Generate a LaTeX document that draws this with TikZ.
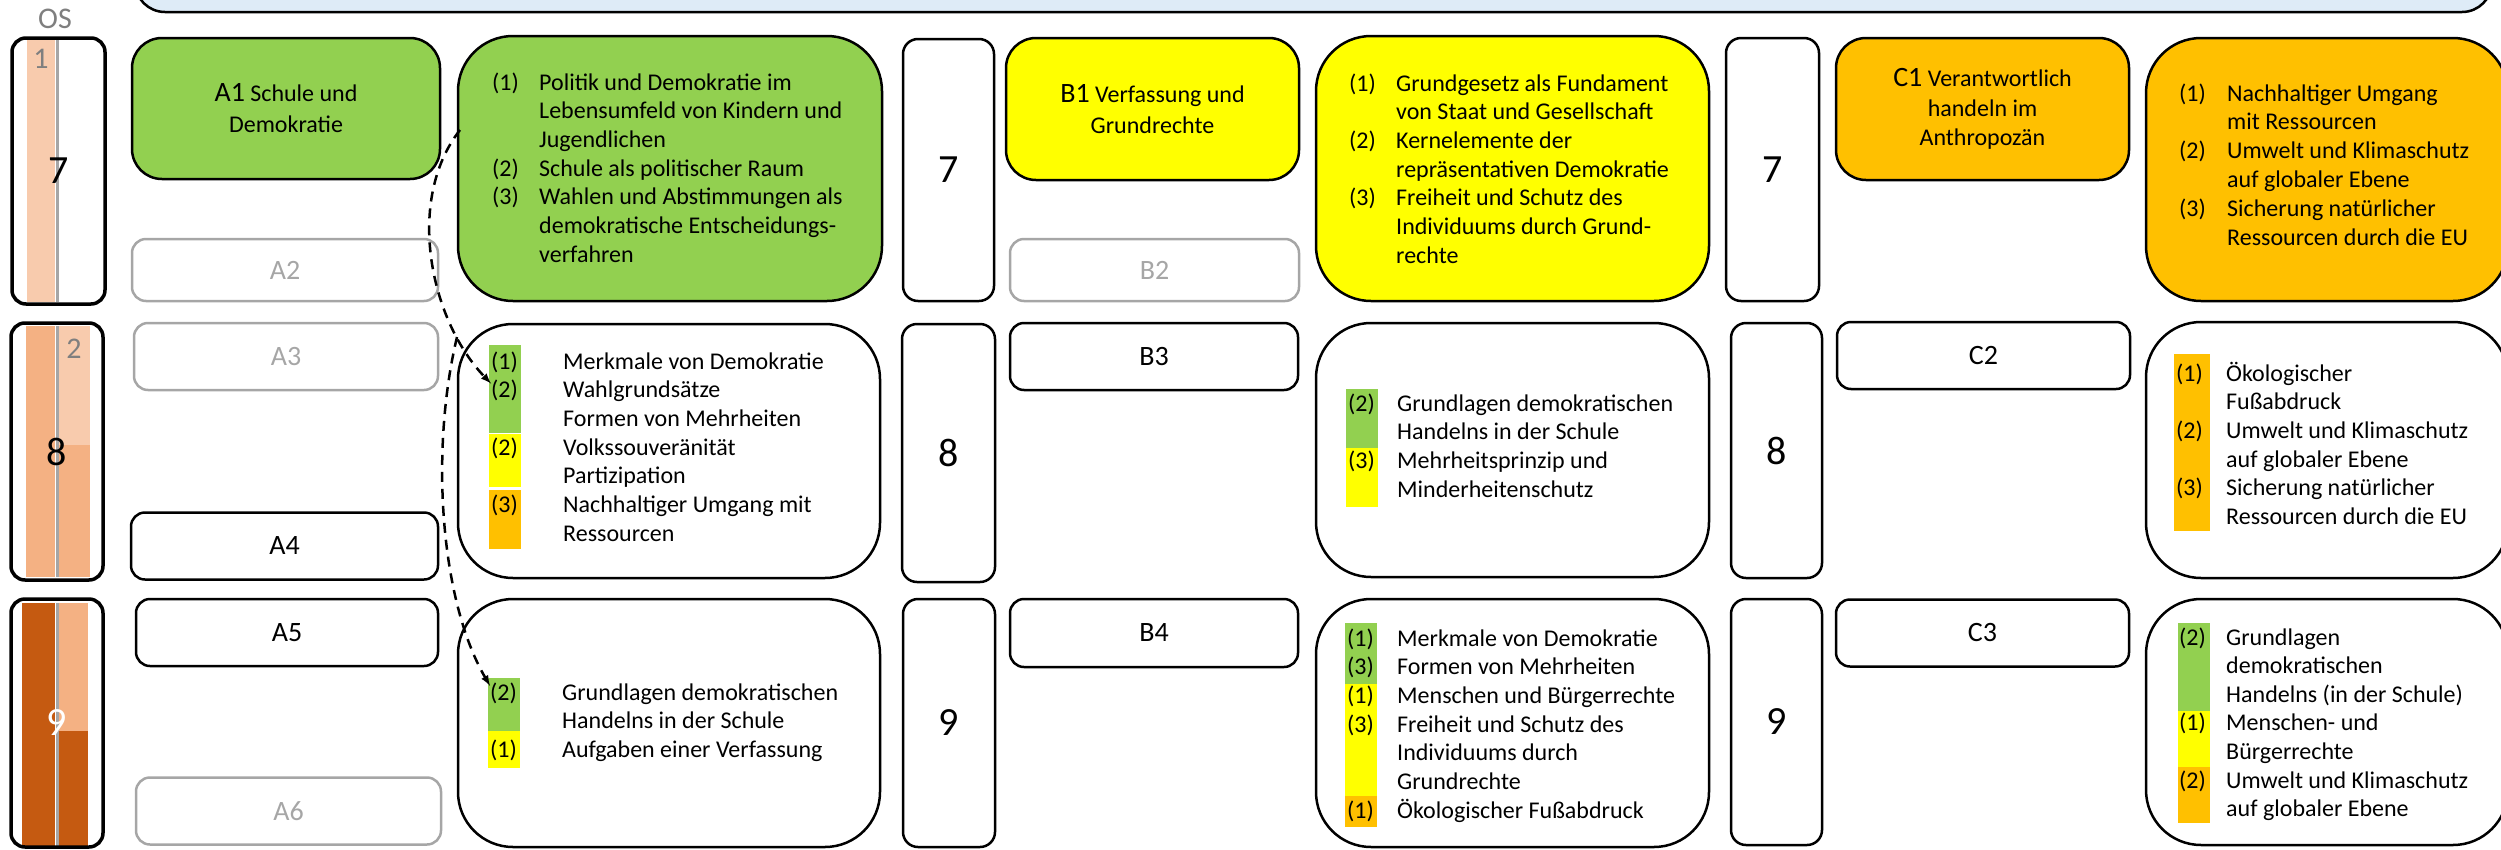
\documentclass[tikz,border=0pt]{standalone}
\usepackage{fontspec}
\setmainfont{Carlito}
\newcommand\schrift[2]{\fontsize{#1}{#2}\selectfont}

\definecolor{gruen}{HTML}{92D050}
\definecolor{gelb}{HTML}{FFFF00}
\definecolor{ocker}{HTML}{FFC000}
\definecolor{hellblau}{HTML}{DEEBF7}
\definecolor{grau}{HTML}{A6A6A6}
\definecolor{textgrau}{HTML}{7F7F7F}
\definecolor{lachs}{HTML}{F8CBAD}
\definecolor{apricot}{HTML}{F4B183}
\definecolor{rost}{HTML}{C55A11}

\tikzset{
  stufe/.style={draw, line width=3.5pt, rounded corners=14pt, font=\schrift{40}{48}},
  trenner/.style={draw, line width=2.5pt, rounded corners=15pt, font=\schrift{40}{48}},
  kopf/.style={draw, line width=2.5pt, rounded corners=14pt, align=center, font=\schrift{28}{31}},
  leer/.style={kopf, draw=grau, text=grau},
  liste/.style={draw, line width=2.5pt, rounded corners=55pt},
  nr/.style={anchor=west, inner sep=0pt, text height=14pt, text depth=0pt, font=\schrift{24}{28.7}},
  zeile/.style={nr},
  pfeil/.style={->, line width=2.5pt, dash pattern=on 10pt off 7pt},
}

\begin{document}
\begin{tikzpicture}[x=1pt, y=-1pt, >=latex]
\useasboundingbox (0,0) rectangle (2501,849);
\clip (0,0) rectangle (2501,849);

% Kopfzeile
\draw[fill=hellblau, line width=2.5pt, rounded corners=30pt] (135,-80) rectangle (2492,12);

% Klassenstufen
\node[text=textgrau, font=\schrift{30}{36}] (os) at (55,19) {OS};
\fill[lachs] (27,40) rectangle (55,302);
\fill[apricot] (26,326) rectangle (55,577);
\fill[lachs] (59,326) rectangle (90,445);
\fill[apricot] (59,445) rectangle (90,577);
\fill[rost] (22,603) rectangle (55,846);
\fill[apricot] (59,603) rectangle (88,731);
\fill[rost] (59,731) rectangle (88,846);
\foreach \y/\h in {40/302, 326/577, 603/846}
  \draw[grau, line width=3pt] (57.5,\y) -- (57.5,\h);
\node[stufe, minimum width=93, minimum height=266] (k7) at (58.5,171) {7};
\node[stufe, minimum width=92, minimum height=257] (k8) at (57,451.5) {8};
\node[stufe, minimum width=92, minimum height=248, text=white] (k9) at (57,723) {9};
\node[text=textgrau, font=\schrift{30}{36}] (h1) at (41,59) {1};
\node[text=textgrau, font=\schrift{30}{36}] (h2) at (74,349) {2};

% Spalte A
\node[kopf, fill=gruen, rounded corners=30pt, font=\schrift{24}{31}, minimum width=308, minimum height=141] (a1) at (286,108.5) {{\schrift{28}{31}A1} Schule und\\Demokratie};
\node[leer, minimum width=306, minimum height=62] (a2) at (285,270) {A2};
\node[leer, minimum width=304, minimum height=67] (a3) at (286,356.5) {A3};
\node[kopf, minimum width=307, minimum height=67] (a4) at (284.5,546) {A4};
\node[kopf, minimum width=302, minimum height=67] (a5) at (287,632.5) {A5};
\node[leer, minimum width=305, minimum height=67] (a6) at (288.5,811) {A6};

\node[liste, fill=gruen, minimum width=424, minimum height=265] (a7l) at (670,168.5) {};
\node[liste, minimum width=422, minimum height=254] (a8l) at (669,451) {};
\node[liste, minimum width=422, minimum height=248] (a9l) at (669,723) {};

\foreach \zl [count=\i] in {Politik und Demokratie im, Lebensumfeld von Kindern und, Jugendlichen, Schule als politischer Raum, Wahlen und Abstimmungen als, demokratische Entscheidungs-, verfahren}
  \node[zeile] (a7z\i) at (539,{83+28.7*(\i-1)}) {\zl};
\foreach \n/\i in {1/1, 2/4, 3/5}
  \node[nr] (a7n\i) at (492,{83+28.7*(\i-1)}) {(\n)};

\fill[gruen] (489,345) rectangle (521,433);
\fill[gelb] (489,434) rectangle (521,487);
\fill[ocker] (489,490) rectangle (521,549);
\foreach \zl [count=\i] in {Merkmale von Demokratie, Wahlgrundsätze, Formen von Mehrheiten, Volkssouveränität, Partizipation, Nachhaltiger Umgang mit, Ressourcen}
  \node[zeile] (a8z\i) at (563,{362+28.7*(\i-1)}) {\zl};
\foreach \n/\i in {1/1, 2/2, 2/4, 3/6}
  \node[nr] (a8n\i) at (491,{362+28.7*(\i-1)}) {(\n)};

\fill[gruen] (488,678) rectangle (520,731);
\fill[gelb] (488,731) rectangle (520,768);
\foreach \zl [count=\i] in {Grundlagen demokratischen, Handelns in der Schule, Aufgaben einer Verfassung}
  \node[zeile] (a9z\i) at (562,{693+28.7*(\i-1)}) {\zl};
\foreach \n/\i in {2/1, 1/3}
  \node[nr] (a9n\i) at (490,{693+28.7*(\i-1)}) {(\n)};

% Bezuege
\coordinate (start) at (460,130);
\coordinate (abzweig) at (457,337);
\draw[pfeil] (start) .. controls (405,200) and (430,320) .. (a8n2.north west);
\draw[pfeil] (abzweig) .. controls (430,450) and (440,600) .. (a9n1.north west);

% Trenner
\node[trenner, minimum width=91, minimum height=262] (t7a) at (948.5,170) {7};
\node[trenner, minimum width=93, minimum height=258] (t8a) at (948.5,453) {8};
\node[trenner, minimum width=92, minimum height=248] (t9a) at (949,723) {9};
\node[trenner, minimum width=93, minimum height=263] (t7b) at (1772.5,169.5) {7};
\node[trenner, minimum width=91, minimum height=255] (t8b) at (1776.5,450.5) {8};
\node[trenner, minimum width=91, minimum height=246] (t9b) at (1776.5,722) {9};

% Spalte B
\node[kopf, fill=gelb, rounded corners=30pt, font=\schrift{24}{31}, minimum width=293, minimum height=142] (b1) at (1152.5,109) {{\schrift{28}{31}B1} Verfassung und\\Grundrechte};
\node[leer, minimum width=289, minimum height=62] (b2) at (1154.5,270) {B2};
\node[kopf, minimum width=288, minimum height=67] (b3) at (1154,356.5) {B3};
\node[kopf, minimum width=288, minimum height=68] (b4) at (1154,633) {B4};

\node[liste, fill=gelb, minimum width=393, minimum height=265] (b7l) at (1512.5,168.5) {};
\node[liste, minimum width=393, minimum height=254] (b8l) at (1512.5,450) {};
\node[liste, minimum width=393, minimum height=248] (b9l) at (1512.5,723) {};

\foreach \zl [count=\i] in {Grundgesetz als Fundament, von Staat und Gesellschaft, Kernelemente der, repräsentativen Demokratie, Freiheit und Schutz des, Individuums durch Grund-, rechte}
  \node[zeile] (b7z\i) at (1396,{84+28.7*(\i-1)}) {\zl};
\foreach \n/\i in {1/1, 2/3, 3/5}
  \node[nr] (b7n\i) at (1349,{84+28.7*(\i-1)}) {(\n)};

\fill[gruen] (1346,389) rectangle (1378,448);
\fill[gelb] (1346,448) rectangle (1378,507);
\foreach \zl [count=\i] in {Grundlagen demokratischen, Handelns in der Schule, Mehrheitsprinzip und, Minderheitenschutz}
  \node[zeile] (b8z\i) at (1397,{404+28.7*(\i-1)}) {\zl};
\foreach \n/\i in {2/1, 3/3}
  \node[nr] (b8n\i) at (1348,{404+28.7*(\i-1)}) {(\n)};

\fill[gruen] (1345,623) rectangle (1377,684);
\fill[gelb] (1345,684) rectangle (1377,796);
\fill[ocker] (1345,796) rectangle (1377,827);
\foreach \zl [count=\i] in {Merkmale von Demokratie, Formen von Mehrheiten, Menschen und Bürgerrechte, Freiheit und Schutz des, Individuums durch, Grundrechte, Ökologischer Fußabdruck}
  \node[zeile] (b9z\i) at (1397,{639+28.7*(\i-1)}) {\zl};
\foreach \n/\i in {1/1, 3/2, 1/3, 3/4, 1/7}
  \node[nr] (b9n\i) at (1347,{639+28.7*(\i-1)}) {(\n)};

% Spalte C
\node[kopf, fill=ocker, rounded corners=30pt, font=\schrift{24}{29.5}, minimum width=293, minimum height=142] (c1) at (1982.5,109) {{\schrift{28}{29.5}C1} Verantwortlich\\handeln im\\Anthropozän};
\node[kopf, minimum width=293, minimum height=67] (c2) at (1983.5,355.5) {C2};
\node[kopf, minimum width=293, minimum height=67] (c3) at (1982.5,633) {C3};

\node[liste, fill=ocker, minimum width=362, minimum height=263] (c7l) at (2327,169.5) {};
\node[liste, minimum width=362, minimum height=256] (c8l) at (2327,450) {};
\node[liste, minimum width=362, minimum height=246] (c9l) at (2327,722) {};

\foreach \zl [count=\i] in {Nachhaltiger Umgang, mit Ressourcen, Umwelt und Klimaschutz, auf globaler Ebene, Sicherung natürlicher, Ressourcen durch die EU}
  \node[zeile] (c7z\i) at (2227,{94+28.8*(\i-1)}) {\zl};
\foreach \n/\i in {1/1, 2/3, 3/5}
  \node[nr] (c7n\i) at (2179,{94+28.8*(\i-1)}) {(\n)};

\fill[ocker] (2174,354) rectangle (2210,531);
\foreach \zl [count=\i] in {Ökologischer, Fußabdruck, Umwelt und Klimaschutz, auf globaler Ebene, Sicherung natürlicher, Ressourcen durch die EU}
  \node[zeile] (c8z\i) at (2226,{374+28.7*(\i-1)}) {\zl};
\foreach \n/\i in {1/1, 2/3, 3/5}
  \node[nr] (c8n\i) at (2176,{374+28.7*(\i-1)}) {(\n)};

\fill[gruen] (2178,623) rectangle (2210,711);
\fill[gelb] (2178,711) rectangle (2210,767);
\fill[ocker] (2178,767) rectangle (2210,823);
\foreach \zl [count=\i] in {Grundlagen, demokratischen, Handelns (in der Schule), Menschen- und, Bürgerrechte, Umwelt und Klimaschutz, auf globaler Ebene}
  \node[zeile] (c9z\i) at (2226,{638+28.6*(\i-1)}) {\zl};
\foreach \n/\i in {2/1, 1/4, 2/6}
  \node[nr] (c9n\i) at (2179,{638+28.6*(\i-1)}) {(\n)};

\end{tikzpicture}
\end{document}
